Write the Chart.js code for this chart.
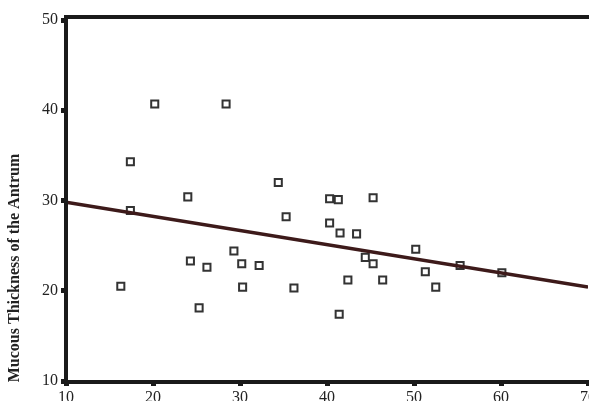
<!DOCTYPE html>
<html>
<head>
<meta charset="utf-8">
<script src="https://cdn.jsdelivr.net/npm/chart.js"></script>
<style>
  html, body { margin: 0; padding: 0; background: #fff; }
  #wrap { width: 589px; height: 401px; position: relative; }
</style>
</head>
<body>
<div id="wrap"><canvas id="chart"></canvas></div>
<script>
// age (x) vs mucous thickness (y)
const ageValues = [16.3, 17.4, 17.4, 20.2, 24.0, 24.3, 26.2, 25.3, 28.4, 29.3, 30.2, 30.3,
                   32.2, 34.4, 35.3, 36.2, 40.3, 41.3, 40.3, 41.5, 43.4, 45.3, 42.4, 41.4,
                   44.4, 45.3, 46.4, 50.2, 51.3, 52.5, 55.3, 60.1];
const thicknessValues = [20.5, 34.3, 28.9, 40.7, 30.4, 23.3, 22.6, 18.1, 40.7, 24.4, 23.0, 20.4,
                         22.8, 32.0, 28.2, 20.3, 30.2, 30.1, 27.5, 26.4, 26.3, 30.3, 21.2, 17.4,
                         23.7, 23.0, 21.2, 24.6, 22.1, 20.4, 22.8, 22.0];
// fitted line end points
const fitX = [10, 70];
const fitY = [29.8, 20.4];

const xTicks = [10, 20, 30, 40, 50, 60, 70];
const yTicks = [10, 20, 30, 40, 50];
const yTitle = "Mucous Thickness of the Antrum";

const scatterData = ageValues.map((x, i) => ({ x: x, y: thicknessValues[i] }));
const fitData = fitX.map((x, i) => ({ x: x, y: fitY[i] }));

// frame + rotated axis title
const framePlugin = {
    id: 'frame',
    afterDraw(chart) {
        const ctx = chart.ctx;
        const a = chart.chartArea;
        ctx.save();
        ctx.strokeStyle = '#1a1a1a';
        ctx.lineWidth = 4;
        ctx.beginPath();
        ctx.moveTo(a.left, a.bottom + 2);
        ctx.lineTo(a.left, a.top - 3);
        ctx.moveTo(a.left - 2, a.top - 3);
        ctx.lineTo(a.right + 2, a.top - 3);
        ctx.moveTo(a.left - 2, a.bottom + 1);
        ctx.lineTo(a.right + 2, a.bottom + 1);
        ctx.stroke();

        ctx.translate(15, 268);
        ctx.rotate(-Math.PI / 2);
        ctx.fillStyle = '#222';
        ctx.font = 'bold 16px "Liberation Serif", serif';
        ctx.textAlign = 'center';
        ctx.textBaseline = 'middle';
        ctx.fillText(yTitle, 0, 0);
        ctx.restore();
    }
};

new Chart(document.getElementById('chart').getContext('2d'), {
    type: 'scatter',
    data: {
        datasets: [{
            type: 'line',
            data: fitData,
            borderColor: '#3d1a1a',
            borderWidth: 3.5,
            pointRadius: 0,
            fill: false,
            tension: 0,
        }, {
            data: scatterData,
            pointStyle: 'rect',
            pointRadius: 5,
            pointBackgroundColor: '#fff',
            pointBorderColor: '#333',
            pointBorderWidth: 2,
        }]
    },
    options: {
        responsive: true,
        maintainAspectRatio: false,
        animation: false,
        layout: { autoPadding: false, padding: { top: 20, right: 1, left: 0, bottom: 0 } },
        plugins: {
            legend: { display: false },
            tooltip: { enabled: false },
        },
        scales: {
            x: {
                type: 'linear',
                min: 10,
                max: 70,
                afterBuildTicks: (s) => { s.ticks = xTicks.map(v => ({ value: v })); },
                afterFit: (s) => { s.height = 20; s.paddingLeft = 0; s.paddingRight = 0; },
                grid: {
                    drawOnChartArea: false,
                    drawTicks: true,
                    tickLength: 5,
                    tickWidth: 5,
                    tickColor: '#1a1a1a',
                },
                border: { display: false },
                ticks: {
                    padding: 2,
                    maxRotation: 0,
                    color: '#222',
                    font: { family: '"Liberation Serif", serif', size: 16 },
                },
            },
            y: {
                type: 'linear',
                min: 10,
                max: 50,
                afterBuildTicks: (s) => { s.ticks = yTicks.map(v => ({ value: v })); },
                afterFit: (s) => { s.width = 66; s.paddingTop = 0; s.paddingBottom = 0; },
                grid: {
                    drawOnChartArea: false,
                    drawTicks: true,
                    tickLength: 5,
                    tickWidth: 5,
                    tickColor: '#1a1a1a',
                },
                border: { display: false },
                ticks: {
                    padding: 3,
                    color: '#222',
                    font: { family: '"Liberation Serif", serif', size: 16 },
                },
            },
        },
    },
    plugins: [framePlugin],
});
</script>
</body>
</html>
